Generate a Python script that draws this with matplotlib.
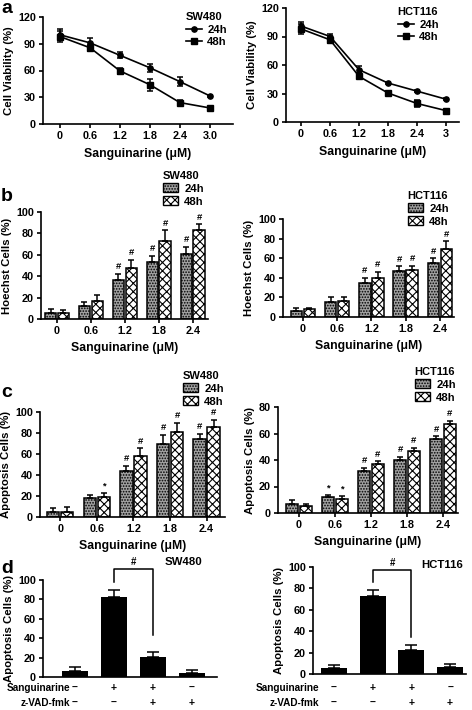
import numpy as np
import matplotlib
matplotlib.use("Agg")
import matplotlib.pyplot as plt
import matplotlib.transforms as mtrans
from matplotlib.patches import Patch
from matplotlib.lines import Line2D

plt.rcParams['font.family'] = ['Liberation Sans', 'DejaVu Sans']
plt.rcParams['font.weight'] = 'bold'
plt.rcParams['axes.labelweight'] = 'bold'
plt.rcParams['hatch.linewidth'] = 0.8

W, H = 472, 710

# ---- panel a: viability curves
dose_sw = ["0", "0.6", "1.2", "1.8", "2.4", "3.0"]
dose_hct = ["0", "0.6", "1.2", "1.8", "2.4", "3"]
via_sw_24 = [100, 91, 77, 63, 47.5, 31.5]
via_sw_24_err = [6, 5, 3.5, 4.5, 5, 1]
via_sw_48 = [98, 85.5, 59.5, 44, 24, 18]
via_sw_48_err = [6, 3.5, 3, 6.5, 3, 1]
via_hct_24 = [101, 90, 55, 41, 32.5, 24]
via_hct_24_err = [4, 3, 3.5, 1, 1, 1]
via_hct_48 = [98, 86.5, 48, 30.5, 19.5, 12]
via_hct_48_err = [5, 3, 2, 1, 4, 1]

# ---- panels b, c: bar groups
dose_bar = ["0", "0.6", "1.2", "1.8", "2.4"]
hoe_sw_24 = [6, 12, 36.5, 53, 61]
hoe_sw_24_err = [3.5, 4, 5.5, 6, 6.5]
hoe_sw_48 = [6, 17, 47.5, 72.5, 83.5]
hoe_sw_48_err = [2.5, 5.5, 7.5, 10.5, 5]
hoe_hct_24 = [6, 15, 34.5, 46.5, 55]
hoe_hct_24_err = [3.5, 5.5, 5.5, 5.5, 5]
hoe_hct_48 = [8, 16, 39.5, 47.5, 69]
hoe_hct_48_err = [1, 4, 6.5, 5, 8.5]
hoe_sw_marks = [["", "", "#", "#", "#"], ["", "", "#", "#", "#"]]
hoe_hct_marks = [["", "", "#", "#", "#"], ["", "", "#", "#", "#"]]

apo_sw_24 = [5, 18, 44, 70, 74]
apo_sw_24_err = [4, 3, 5, 8, 5.5]
apo_sw_48 = [5, 19, 58, 81, 86]
apo_sw_48_err = [5, 4, 7.5, 8.5, 6.5]
apo_hct_24 = [7, 12, 32, 40, 55.5]
apo_hct_24_err = [2.5, 1.5, 2, 2.5, 2.5]
apo_hct_48 = [5.5, 10.5, 37, 47, 67]
apo_hct_48_err = [1, 2, 2, 2, 2.5]
apo_sw_marks = [["", "", "#", "#", "#"], ["", "*", "#", "#", "#"]]
apo_hct_marks = [["", "*", "#", "#", "#"], ["", "*", "#", "#", "#"]]

# ---- panel d: z-VAD-fmk
sang_row = ["\u2013", "+", "+", "\u2013"]
zvad_row = ["\u2013", "\u2013", "+", "+"]
d_sw = [6.5, 82, 20.5, 4]
d_sw_err = [4, 8, 5.5, 3]
d_hct = [6, 72.5, 22, 7]
d_hct_err = [2, 6, 5, 2]

fig = plt.figure(figsize=(W / 100, H / 100), dpi=100)


def rect(x0, y0, x1, y1):
    return [x0 / W, 1 - y1 / H, (x1 - x0) / W, (y1 - y0) / H]


def style(ax):
    for s in ["top", "right"]:
        ax.spines[s].set_visible(False)
    for s in ["left", "bottom"]:
        ax.spines[s].set_linewidth(1.2)
    ax.tick_params(direction="out", length=3, width=1.2, labelsize=7.8, pad=2)
    for lab in ax.get_xticklabels() + ax.get_yticklabels():
        lab.set_fontweight("bold")


def line_panel(r, labels, v24, e24, v48, e48, xlim, title, leg_xy):
    ax = fig.add_axes(rect(*r))
    x = np.arange(len(labels))
    ax.errorbar(x, v24, yerr=e24, color="black", marker="o", ms=3.8, lw=1.2,
                capsize=2.5, elinewidth=1.1, capthick=1.1)
    ax.errorbar(x, v48, yerr=e48, color="black", marker="s", ms=3.8, lw=1.2,
                capsize=2.5, elinewidth=1.1, capthick=1.1)
    ax.set_xlim(*xlim)
    ax.set_ylim(0, 120)
    ax.set_yticks([0, 30, 60, 90, 120])
    ax.set_xticks(x)
    ax.set_xticklabels(labels)
    ax.set_xlabel("Sanguinarine (\u03bcM)", fontsize=8.8, labelpad=5)
    ax.set_ylabel("Cell Viability (%)", fontsize=8.2, labelpad=3)
    style(ax)
    hs = [Line2D([], [], color="black", marker="o", ms=3.8, lw=1.2),
          Line2D([], [], color="black", marker="s", ms=3.8, lw=1.2)]
    leg = ax.legend(hs, ["24h", "48h"], title=title, loc="upper left",
                    bbox_to_anchor=(leg_xy[0] / W, 1 - leg_xy[1] / H),
                    bbox_transform=fig.transFigure, frameon=False,
                    fontsize=8.2, title_fontsize=8, handlelength=1.4,
                    handletextpad=0.5, labelspacing=0.25, borderpad=0,
                    alignment="left")
    leg.get_title().set_fontweight("bold")
    return ax


def bar_panel(r, v24, e24, v48, e48, marks, ylim, yticks, xlim, title, leg_xy,
              ylabel):
    ax = fig.add_axes(rect(*r))
    x = np.arange(len(dose_bar))
    w = 0.34
    ax.bar(x - 0.19, v24, w, yerr=[np.zeros(len(e24)), e24], facecolor="#a0a0a0",
           edgecolor="black", hatch="......", lw=1.1,
           error_kw=dict(capsize=2.5, elinewidth=1.1, capthick=1.1))
    ax.bar(x + 0.19, v48, w, yerr=[np.zeros(len(e48)), e48], facecolor="white",
           edgecolor="black", hatch="xxxx", lw=1.1,
           error_kw=dict(capsize=2.5, elinewidth=1.1, capthick=1.1))
    off = ylim[1] * 0.025
    for i in range(len(x)):
        if marks[0][i]:
            ax.text(x[i] - 0.19, v24[i] + e24[i] + off, marks[0][i], ha="center",
                    va="bottom", fontsize=6.8)
        if marks[1][i]:
            ax.text(x[i] + 0.19, v48[i] + e48[i] + off, marks[1][i], ha="center",
                    va="bottom", fontsize=6.8)
    ax.set_xlim(*xlim)
    ax.set_ylim(*ylim)
    ax.set_yticks(yticks)
    ax.set_xticks(x)
    ax.set_xticklabels(dose_bar)
    ax.set_xlabel("Sanguinarine (\u03bcM)", fontsize=8.8, labelpad=4)
    ax.set_ylabel(ylabel, fontsize=8.2, labelpad=3)
    style(ax)
    hs = [Patch(facecolor="#a0a0a0", edgecolor="black", hatch="......"),
          Patch(facecolor="white", edgecolor="black", hatch="xxxx")]
    leg = ax.legend(hs, ["24h", "48h"], title=title, loc="upper left",
                    bbox_to_anchor=(leg_xy[0] / W, 1 - leg_xy[1] / H),
                    bbox_transform=fig.transFigure, frameon=False,
                    fontsize=8.2, title_fontsize=8, handlelength=1.3,
                    handleheight=0.9, handletextpad=0.6, labelspacing=0.2,
                    borderpad=0, alignment="left")
    leg.get_title().set_fontweight("bold")
    return ax


def d_panel(r, vals, errs, xlim, label_right, title, title_xy, bracket):
    ax = fig.add_axes(rect(*r))
    x = np.arange(len(vals))
    ax.bar(x, vals, 0.67, yerr=[np.zeros(len(errs)), errs], color="black",
           error_kw=dict(capsize=4, elinewidth=1.1, capthick=1.1))
    ax.set_xlim(*xlim)
    ax.set_ylim(0, 100)
    ax.set_yticks([0, 20, 40, 60, 80, 100])
    ax.set_xticks([])
    ax.set_ylabel("Apoptosis Cells (%)", fontsize=8.2, labelpad=3)
    style(ax)
    top, lft, rgt = bracket
    ax.plot([1, 1, 2, 2], [lft, top, top, rgt], color="black", lw=1.1, clip_on=False)
    ax.text(1.5, top + 2, "#", ha="center", va="bottom", fontsize=7)
    fig.text(title_xy[0] / W, 1 - title_xy[1] / H, title, ha="center",
             va="center", fontsize=8.2, fontweight="bold")
    tr = mtrans.blended_transform_factory(ax.transData, fig.transFigure)
    fig.text(label_right / W, 1 - 688 / H, "Sanguinarine", ha="right",
             va="center", fontsize=7.2)
    fig.text(label_right / W, 1 - 703 / H, "z-VAD-fmk", ha="right",
             va="center", fontsize=7.2)
    for i in range(len(x)):
        ax.text(x[i], 1 - 688 / H, sang_row[i], transform=tr, ha="center",
                va="center", fontsize=7.5)
        ax.text(x[i], 1 - 703 / H, zvad_row[i], transform=tr, ha="center",
                va="center", fontsize=7.5)
    return ax


line_panel((43, 17, 233, 124), dose_sw, via_sw_24, via_sw_24_err, via_sw_48,
           via_sw_48_err, (-0.57, 5.77), "SW480", (180, 6))
line_panel((286, 8, 459, 122), dose_hct, via_hct_24, via_hct_24_err, via_hct_48,
           via_hct_48_err, (-0.52, 5.45), "HCT116", (392, 1))

bar_panel((41, 212, 208, 319), hoe_sw_24, hoe_sw_24_err, hoe_sw_48, hoe_sw_48_err,
          hoe_sw_marks, (0, 100), [0, 20, 40, 60, 80, 100], (-0.47, 4.45),
          "SW480", (157, 165), "Hoechst Cells (%)")
bar_panel((283, 219, 454, 317), hoe_hct_24, hoe_hct_24_err, hoe_hct_48,
          hoe_hct_48_err, hoe_hct_marks, (0, 100), [0, 20, 40, 60, 80, 100],
          (-0.58, 4.41), "HCT116", (402, 185), "Hoechst Cells (%)")

bar_panel((40, 412, 225, 517), apo_sw_24, apo_sw_24_err, apo_sw_48, apo_sw_48_err,
          apo_sw_marks, (0, 100), [0, 20, 40, 60, 80, 100], (-0.55, 4.5),
          "SW480", (177, 365), "Apoptosis Cells (%)")
bar_panel((278, 407, 458, 513), apo_hct_24, apo_hct_24_err, apo_hct_48,
          apo_hct_48_err, apo_hct_marks, (0, 80), [0, 20, 40, 60, 80],
          (-0.58, 4.42), "HCT116", (409, 361), "Apoptosis Cells (%)")

d_panel((43, 580, 217, 677), d_sw, d_sw_err, (-0.82, 3.64), 70, "SW480",
        (183, 562), (111, 98, 43))
d_panel((313, 567, 466, 674), d_hct, d_hct_err, (-0.54, 3.41), 319, "HCT116",
        (442, 565), (97, 86, 35))

for letter, xp, yp in [("a", 1, 13), ("b", 1, 201), ("c", 1, 397), ("d", 1, 573)]:
    fig.text(xp / W, 1 - yp / H, letter, fontsize=14, fontweight="bold",
             va="baseline", ha="left")

fig.savefig("out.png", dpi=100)
